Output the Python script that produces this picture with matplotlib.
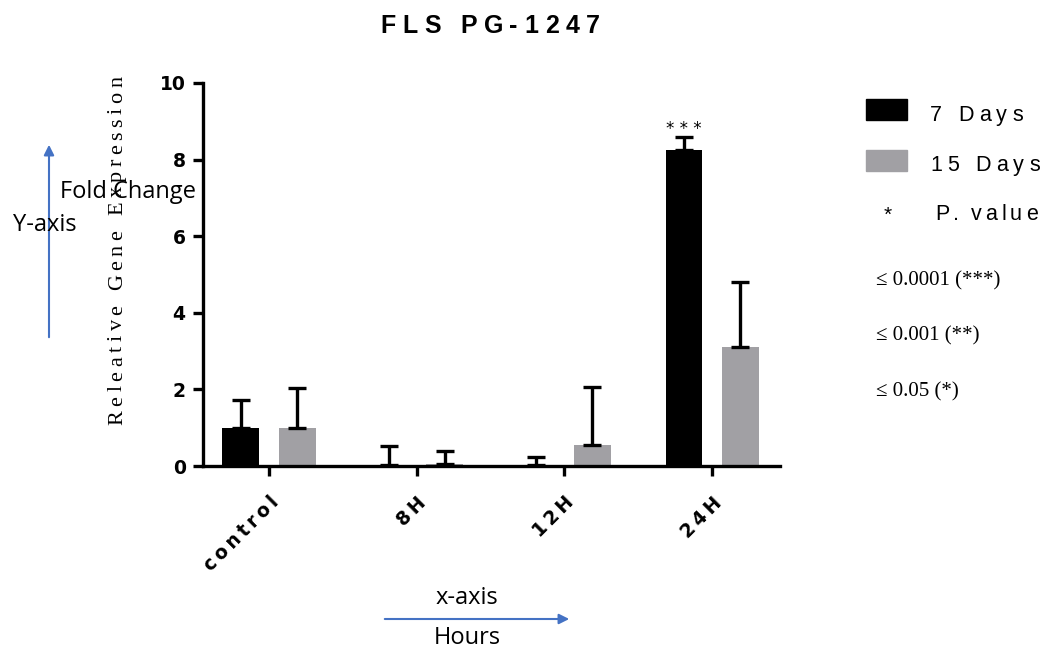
import matplotlib
matplotlib.use("Agg")
import matplotlib.pyplot as plt
from matplotlib.font_manager import FontProperties
from matplotlib.patches import Rectangle, FancyArrowPatch
import numpy as np

categories = ["control", "8H", "12H", "24H"]
days7 = [1.0, 0.02, 0.02, 8.25]
days7_err = [0.72, 0.5, 0.22, 0.33]
days15 = [1.0, 0.04, 0.55, 3.1]
days15_err = [1.03, 0.36, 1.52, 1.7]
yticks = [0, 2, 4, 6, 8, 10]
sig_labels = ["", "", "", "***"]
legend_labels = ["7 Days", "15 Days", "P. value"]
pval_lines = ["\u2264 0.0001 (***)", "\u2264 0.001 (**)", "\u2264 0.05 (*)"]
title = "FLS PG-1247"
ylabel = "Releative Gene Expression"

BLACK = "#000000"
GRAY = "#A1A0A4"
BLUE = "#4472C4"

W, H = 1049, 655
fig = plt.figure(figsize=(W / 100, H / 100), dpi=100)
renderer = fig.canvas.get_renderer()


def tw(s, fp):
    return renderer.get_text_width_height_descent(s, fp, ismath=False)[0]


def spaced_text(x, y, s, spacing, fp, align="left", vertical=False, color="black"):
    """Letter-spaced text; x, y in pixels from top-left, y is baseline."""
    bar = tw("|", fp)
    advs = [tw(s[:i] + "|", fp) - bar + i * spacing for i in range(len(s))]
    total = tw(s + "|", fp) - bar + (len(s) - 1) * spacing
    start = -total / 2 if align == "center" else 0
    for ch, a in zip(s, advs):
        if ch == " ":
            continue
        if vertical:
            fig.text(x / W, 1 - (y - (start + a)) / H, ch, rotation=90,
                     rotation_mode="anchor", ha="left", va="baseline",
                     fontproperties=fp, color=color)
        else:
            fig.text((x + start + a) / W, 1 - y / H, ch, ha="left", va="baseline",
                     fontproperties=fp, color=color)


def thin(s):
    return "\u2009".join(list(s))


ax = fig.add_axes([203 / W, 1 - 466 / H, (780 - 203) / W, (466 - 83) / H])

x = np.arange(len(categories))
bw = 0.25
off = 0.19
lw = 2.4
ax.bar(x - off, days7, bw, color=BLACK, yerr=[np.zeros(4), days7_err],
       error_kw=dict(ecolor="black", elinewidth=lw, capsize=6.5, capthick=lw), zorder=2)
ax.bar(x + off, days15, bw, color=GRAY, yerr=[np.zeros(4), days15_err],
       error_kw=dict(ecolor="black", elinewidth=lw, capsize=6.5, capthick=lw), zorder=1)

for i, s in enumerate(sig_labels):
    if s:
        ax.text(x[i] - off, days7[i] + days7_err[i] - 0.02, " ".join(s), ha="center",
                va="bottom", fontsize=12, color="black")

ax.set_xlim(-0.447, 3.46)
ax.set_ylim(0, 10)
ax.set_yticks(yticks)
ax.set_yticklabels([str(t) for t in yticks], fontsize=13.5, fontweight="bold")
ax.set_xticks(x)
ax.set_xticklabels([thin(c) for c in categories], rotation=45, ha="right",
                   rotation_mode="anchor", fontsize=13.5, fontweight="bold")
for sp in ["top", "right"]:
    ax.spines[sp].set_visible(False)
for sp in ["left", "bottom"]:
    ax.spines[sp].set_linewidth(2.4)
ax.tick_params(axis="both", width=2.4, length=7.5, direction="out")
ax.tick_params(axis="x", pad=12)
ax.tick_params(axis="y", pad=5)

# title
spaced_text(490, 33, title, 6.5,
            FontProperties(family="Liberation Sans", weight="bold", size=18), align="center")

# y label (serif, letter-spaced, vertical)
spaced_text(122, 425, ylabel, 4.5, FontProperties(family="Liberation Serif", size=16),
            vertical=True)

afp = dict(fontsize=17, family="Open Sans")
fig.text(128 / W, 1 - 192 / H, "Fold Change", ha="center", va="center", **afp)
fig.text(45 / W, 1 - 225 / H, "Y-axis", ha="center", va="center", **afp)
fig.add_artist(FancyArrowPatch(
    (49 / W, 1 - 340 / H), (49 / W, 1 - 142 / H), transform=fig.transFigure,
    arrowstyle="-|>,head_length=6,head_width=3", color=BLUE, lw=1.5))
fig.add_artist(FancyArrowPatch(
    (382 / W, 1 - 619 / H), (572 / W, 1 - 619 / H), transform=fig.transFigure,
    arrowstyle="-|>,head_length=6,head_width=3", color=BLUE, lw=1.5))
fig.text(467 / W, 1 - 598 / H, "x-axis", ha="center", va="center", **afp)
fig.text(467 / W, 1 - 638 / H, "Hours", ha="center", va="center", **afp)

# legend
fig.patches.append(Rectangle((866 / W, 1 - 120 / H), 41 / W, 21 / H,
                             transform=fig.transFigure, color=BLACK))
fig.patches.append(Rectangle((866 / W, 1 - 171 / H), 41 / W, 21 / H,
                             transform=fig.transFigure, color=GRAY))
lfp = FontProperties(family="Liberation Sans", size=15.5)
spaced_text(930, 121, legend_labels[0], 5.2, lfp)
spaced_text(930, 171, legend_labels[1], 5.2, lfp)
fig.text(888 / W, 1 - 221 / H, "*", ha="center", va="baseline", fontsize=15,
         family="Liberation Sans")
spaced_text(935, 220, legend_labels[2], 4.0, lfp)
for i, t in enumerate(pval_lines):
    fig.text(876 / W, 1 - (285 + 55.5 * i) / H, t, ha="left", va="baseline",
             fontsize=15, family="Liberation Serif")

fig.savefig("out.png", dpi=100)
